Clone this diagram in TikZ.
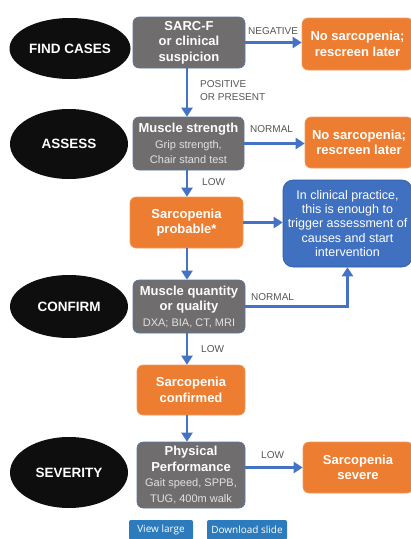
\documentclass[tikz,border=0pt]{standalone}
\usepackage{fontspec}
\setmainfont{Liberation Sans}
\newfontfamily\btnfont{Open Sans}
\usetikzlibrary{arrows.meta,shapes.geometric}

\definecolor{stagebg}{HTML}{0E0E0E}
\definecolor{testfill}{HTML}{6F6D6E}
\definecolor{testedge}{HTML}{5A78A8}
\definecolor{resfill}{HTML}{ED7D31}
\definecolor{resedge}{HTML}{F29A5C}
\definecolor{notefill}{HTML}{4070C0}
\definecolor{noteedge}{HTML}{30599E}
\definecolor{flow}{HTML}{4472C4}
\definecolor{labelgray}{HTML}{555555}
\definecolor{subtext}{HTML}{E2E2E2}
\definecolor{btnfill}{HTML}{2B7BBD}

\tikzset{
  stage/.style={ellipse, fill=stagebg, text=white, inner sep=0pt,
    font=\fontsize{13.5}{15}\selectfont\bfseries},
  testbox/.style={rectangle, rounded corners=6pt, fill=testfill, draw=testedge,
    line width=0.6pt, text=white, align=center, inner sep=0pt,
    font=\fontsize{13}{15.5}\selectfont\bfseries},
  resbox/.style={rectangle, rounded corners=6pt, fill=resfill, draw=resedge,
    line width=0.6pt, text=white, align=center, inner sep=0pt,
    font=\fontsize{13}{15.5}\selectfont\bfseries},
  notebox/.style={rectangle, rounded corners=10pt, fill=notefill, draw=noteedge,
    line width=0.6pt, text=white, align=center, inner sep=0pt,
    font=\fontsize{12.5}{14.2}\selectfont},
  flowline/.style={draw=flow, line width=2.2pt,
    -{Triangle[length=9pt,width=11pt]}},
  flowlabel/.style={text=labelgray, inner sep=0pt, align=left,
    font=\fontsize{10}{13.5}\selectfont},
  btn/.style={rectangle, rounded corners=2pt, fill=btnfill, text=white,
    inner sep=0pt, font=\btnfont\fontsize{10}{12}\selectfont},
}
\newcommand{\subline}[1]{{\fontsize{11}{13}\selectfont\mdseries\color{subtext}#1}}

\begin{document}
\begin{tikzpicture}[x=1pt, y=-1pt]
\useasboundingbox (0,0) rectangle (411,539);

% stages on the left
\node[stage, minimum width=121pt, minimum height=61pt] (find) at (70,48.5) {FIND CASES};
\node[stage, minimum width=118pt, minimum height=70pt] (assess) at (69,144) {ASSESS};
\node[stage, minimum width=118pt, minimum height=63pt] (confirm) at (69,306.5) {CONFIRM};
\node[stage, minimum width=118pt, minimum height=71pt] (severity) at (69,472.5) {SEVERITY};

% tests in the middle column
\node[testbox, minimum width=112pt, minimum height=51pt] (sarcf) at (189,42.5)
  {SARC-F\\or clinical\\suspicion};
\node[testbox, minimum width=111pt, minimum height=53pt] (strength) at (188.5,143.5)
  {Muscle strength\\\subline{Grip strength,}\\\subline{Chair stand test}};
\node[resbox, minimum width=113pt, minimum height=51pt] (probable) at (186.5,222.5)
  {Sarcopenia\\probable*};
\node[testbox, minimum width=112pt, minimum height=53pt] (quantity) at (189,306.5)
  {Muscle quantity\\or quality\\\subline{DXA; BIA, CT, MRI}};
\node[resbox, minimum width=108pt, minimum height=50pt] (confirmed) at (191,390)
  {Sarcopenia\\confirmed};
\node[testbox, minimum width=108pt, minimum height=66pt] (perform) at (191,475)
  {Physical\\Performance\\\subline{Gait speed, SPPB,}\\\subline{TUG, 400m walk}};

% outcomes on the right
\node[resbox, minimum width=111pt, minimum height=52pt] (noneA) at (357.5,44)
  {No sarcopenia;\\rescreen later};
\node[resbox, minimum width=108pt, minimum height=51pt] (noneB) at (359,142.5)
  {No sarcopenia;\\rescreen later};
\node[notebox, minimum width=129pt, minimum height=87pt] (note) at (347.5,223.5)
  {In clinical practice,\\this is enough to\\trigger assessment of\\causes and start\\intervention};
\node[resbox, minimum width=110pt, minimum height=51pt] (severe) at (358,467.5)
  {Sarcopenia\\severe};

% buttons under the chart
\node[btn, minimum width=64pt, minimum height=20pt] (viewbtn) at (161,530) {View large};
\node[btn, minimum width=80pt, minimum height=20pt] (dlbtn) at (247,530) {Download slide};

% main vertical flow
\coordinate (spine) at (187,0);
\draw[flowline] (sarcf.south -| spine) -- (strength.north -| spine);
\draw[flowline] (strength.south -| spine) -- (probable.north -| spine);
\draw[flowline] (probable.south -| spine) -- (quantity.north -| spine);
\draw[flowline] (quantity.south -| spine) -- (confirmed.north -| spine);
\draw[flowline] (confirmed.south -| spine) -- (perform.north -| spine);

% side branches
\draw[flowline] (sarcf.east) -- (sarcf.east -| noneA.west);
\draw[flowline] (strength.east) -- (strength.east -| noneB.west);
\draw[flowline] (probable.east) -- (probable.east -| note.west);
\draw[flowline] (quantity.east) -| (note.south);
\draw[flowline] (severe.west -| perform.east) -- (severe.west);

% branch labels
\node[flowlabel, anchor=west] (lneg) at (248,31) {NEGATIVE};
\node[flowlabel, anchor=north west] (lpos) at (200,80) {POSITIVE\\OR PRESENT};
\node[flowlabel, anchor=west] (lnormA) at (250,129) {NORMAL};
\node[flowlabel, anchor=west] (llowA) at (202,182) {LOW};
\node[flowlabel, anchor=west] (lnormB) at (251,297) {NORMAL};
\node[flowlabel, anchor=west] (llowB) at (201,349) {LOW};
\node[flowlabel, anchor=west] (llowC) at (261,455) {LOW};
\end{tikzpicture}
\end{document}
